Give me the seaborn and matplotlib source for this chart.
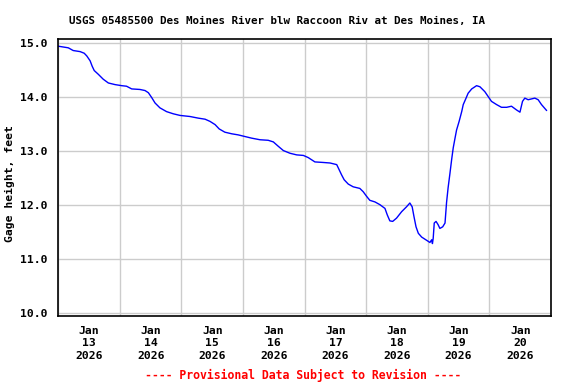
import numpy as np
import pandas as pd
import matplotlib
matplotlib.use("Agg")
import matplotlib.pyplot as plt
import matplotlib.dates as mdates
import seaborn as sns

# hours after Jan 13 2026 00:00 and gage height (ft)
hours = [0.0, 1.3, 3.9, 5.8, 8.5, 10.1, 11.1, 12.4, 13.2, 14.0, 15.6, 17.5, 19.5,
         22.1, 24.7, 26.6, 28.6, 31.8, 33.8, 35.1, 36.4, 37.7, 39.6, 42.2, 44.8,
         47.4, 51.3, 54.5, 57.2, 59.1, 61.1, 62.7, 64.9, 67.6, 70.1, 72.7, 75.3,
         78.6, 81.8, 83.8, 85.7, 87.7, 90.3, 92.9, 95.5, 97.4, 100.0, 103.2,
         105.9, 108.5, 109.5, 110.4, 111.4, 113.0, 114.9, 117.5, 118.8, 120.2,
         121.4, 123.4, 125.3, 127.3, 128.2, 129.2, 130.3, 131.8, 133.8, 135.7,
         137.0, 137.9, 138.6, 139.4, 140.3, 141.6, 142.9, 144.2, 144.8, 145.5,
         145.8, 146.1, 146.5, 147.2, 148.0, 148.7, 149.8, 150.7, 151.3, 151.9,
         152.6, 153.3, 153.9, 154.6, 155.2, 156.2, 157.2, 157.8, 158.9, 159.7,
         161.1, 163.0, 164.3, 166.2, 167.5, 168.8, 170.8, 172.7, 174.7, 176.6,
         178.6, 179.9, 180.9, 181.8, 183.1, 185.7, 187.0, 188.3, 190.3]
gage_ft = [14.94, 14.93, 14.91, 14.86, 14.84, 14.81, 14.76, 14.67, 14.57, 14.49,
           14.42, 14.33, 14.26, 14.23, 14.21, 14.20, 14.15, 14.14, 14.12, 14.08,
           13.99, 13.89, 13.80, 13.73, 13.69, 13.66, 13.64, 13.61, 13.59, 13.55,
           13.49, 13.41, 13.35, 13.32, 13.30, 13.27, 13.24, 13.21, 13.20, 13.17,
           13.09, 13.01, 12.96, 12.93, 12.92, 12.88, 12.80, 12.79, 12.78, 12.75,
           12.65, 12.56, 12.47, 12.39, 12.34, 12.31, 12.25, 12.16, 12.09, 12.06,
           12.01, 11.94, 11.82, 11.71, 11.70, 11.76, 11.88, 11.97, 12.04, 11.97,
           11.79, 11.60, 11.48, 11.41, 11.37, 11.33, 11.31, 11.36, 11.29, 11.39,
           11.67, 11.70, 11.64, 11.57, 11.60, 11.67, 12.05, 12.32, 12.58, 12.85,
           13.06, 13.24, 13.39, 13.55, 13.73, 13.86, 13.98, 14.07, 14.15, 14.21,
           14.19, 14.10, 14.01, 13.92, 13.86, 13.81, 13.81, 13.83, 13.76, 13.72,
           13.92, 13.98, 13.95, 13.98, 13.95, 13.86, 13.75]
y_ticks = [10.0, 11.0, 12.0, 13.0, 14.0, 15.0]

start = pd.Timestamp("2026-01-13")
df = pd.DataFrame({"time": start + pd.to_timedelta(hours, unit="h"),
                   "gage": gage_ft})

sns.set_style("white")
plt.rcParams["font.family"] = ["DejaVu Sans Mono"]
plt.rcParams["font.weight"] = "bold"
plt.rcParams["text.color"] = "black"
plt.rcParams["axes.labelcolor"] = "black"
plt.rcParams["xtick.color"] = "black"
plt.rcParams["ytick.color"] = "black"

fig = plt.figure(figsize=(5.76, 3.84), dpi=100)
ax = fig.add_axes([0.1012, 0.177, 0.8554, 0.721])

sns.lineplot(data=df, x="time", y="gage", ax=ax, color="#0000ff",
             linewidth=1.0, estimator=None)

ax.set_xlim(start, start + pd.Timedelta(days=8))
ax.set_ylim(9.95, 15.07)
ax.set_yticks(y_ticks)
ax.set_yticklabels([f"{v:.1f}" for v in y_ticks], fontsize=8.2, fontweight="bold")

ax.xaxis.set_major_locator(mdates.DayLocator())
ax.xaxis.set_major_formatter(plt.NullFormatter())
ax.xaxis.set_minor_locator(mdates.HourLocator(byhour=[12]))
ax.xaxis.set_minor_formatter(mdates.DateFormatter("%b\n%d\n%Y"))
ax.tick_params(axis="x", which="both", length=0, pad=7)
ax.tick_params(axis="y", length=0, pad=8)
for lab in ax.xaxis.get_minorticklabels():
    lab.set_fontsize(8.2)
    lab.set_fontweight("bold")
    lab.set_linespacing(1.3)

ax.grid(True, which="major", color="#cccccc", linewidth=1.0)
for s in ax.spines.values():
    s.set_color("black")
    s.set_linewidth(1.2)

ax.set_xlabel("")
ax.set_ylabel("Gage height, feet", fontsize=8.2, fontweight="bold")
ax.yaxis.set_label_coords(-0.088, 0.48)

fig.text(0.481, 0.946, "USGS 05485500 Des Moines River blw Raccoon Riv at Des Moines, IA",
         ha="center", va="center", fontsize=7.8, fontweight="bold")
fig.text(0.527, 0.023, "---- Provisional Data Subject to Revision ----",
         ha="center", va="center", fontsize=8.3, fontweight="bold", color="#ff0000")

fig.savefig("out.png", dpi=100)
